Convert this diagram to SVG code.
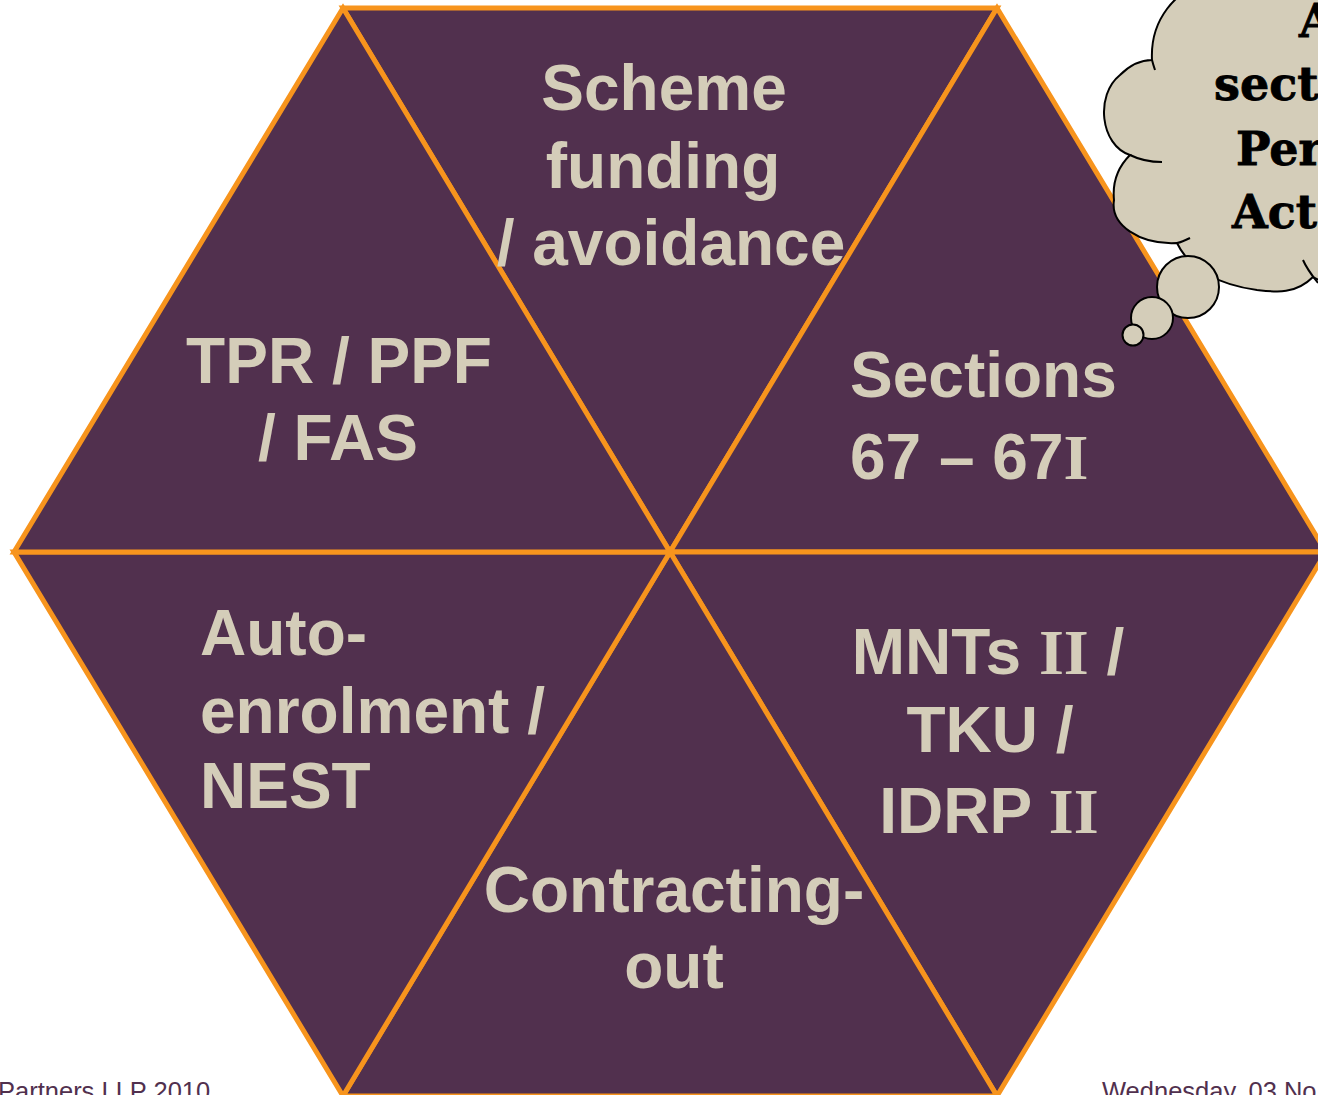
<svg xmlns="http://www.w3.org/2000/svg" width="1318" height="1095" viewBox="0 0 1318 1095">
<style>
.tri{fill:#51304E;stroke:#F7941D;stroke-width:5;stroke-linejoin:miter}
.lbl{font-family:"Liberation Sans",Arial,sans-serif;font-weight:bold;font-size:64px;fill:#D4CDB9}
.rom{font-family:"Liberation Serif","Times New Roman",serif;font-weight:bold}
.cloud{fill:#D4CDB9;stroke:#000;stroke-width:2}
.ctext{font-family:"DejaVu Serif",serif;font-weight:bold;font-size:46px;fill:#000}
.foot{font-family:"Liberation Sans",Arial,sans-serif;font-size:25.5px;fill:#51304E}
</style>
<rect width="1318" height="1095" fill="#fff"/>
<g id="hexagon">
<polygon id="tri-top" class="tri" points="343,8 997,8 670,552"/>
<polygon id="tri-topright" class="tri" points="997,8 1326,552 670,552"/>
<polygon id="tri-bottomright" class="tri" points="1326,552 997,1096 670,552"/>
<polygon id="tri-bottom" class="tri" points="997,1096 343,1096 670,552"/>
<polygon id="tri-bottomleft" class="tri" points="343,1096 14,552 670,552"/>
<polygon id="tri-topleft" class="tri" points="14,552 343,8 670,552"/>
</g>
<g id="connectors"></g>
<g id="scheme-funding">
<text class="lbl" text-anchor="middle"><tspan x="664" y="110">Scheme</tspan><tspan x="663" y="188">funding</tspan><tspan x="671" y="265">/ avoidance</tspan></text>
</g>
<g id="tpr-ppf">
<text class="lbl" text-anchor="middle"><tspan x="339" y="383">TPR / PPF</tspan><tspan x="338" y="460">/ FAS</tspan></text>
</g>
<g id="sections">
<text class="lbl"><tspan x="850" y="397">Sections</tspan><tspan x="850" y="479">67 – 67<tspan class="rom">I</tspan></tspan></text>
</g>
<g id="auto-enrolment">
<text class="lbl"><tspan x="200" y="655">Auto-</tspan><tspan x="200" y="733">enrolment /</tspan><tspan x="200" y="808">NEST</tspan></text>
</g>
<g id="mnts">
<text class="lbl" text-anchor="middle"><tspan x="988" y="674">MNTs <tspan class="rom">II</tspan> /</tspan><tspan x="990" y="752">TKU /</tspan><tspan x="989" y="833">IDRP <tspan class="rom">II</tspan></tspan></text>
</g>
<g id="contracting-out">
<text class="lbl" text-anchor="middle"><tspan x="674" y="912">Contracting-</tspan><tspan x="674" y="988">out</tspan></text>
</g>
<g id="thought-cloud">
<path class="cloud" d="M1152,60 C1150,20 1175,-10 1210,-20 L1340,-20 L1340,290 C1320,280 1318,280 1313,277 C1295,295 1275,292 1257,290 C1220,285 1190,270 1177,243 C1140,245 1110,225 1114,200 C1112,180 1120,165 1130,155 C1100,145 1095,95 1120,75 C1130,65 1140,60 1152,60 Z"/>
<path fill="none" stroke="#000" stroke-width="2" d="M1152,60 C1153,64 1154,67 1155,70 M1130,155 C1140,160 1150,162 1162,162 M1177,243 C1182,242 1186,240 1190,238 M1303,260 C1306,267 1310,273 1318,283"/>
<circle class="cloud" cx="1188" cy="287" r="31"/>
<circle class="cloud" cx="1152" cy="318" r="21"/>
<circle class="cloud" cx="1133" cy="335" r="10.5"/>
<text class="ctext" stroke="#000" stroke-width="0.8"><tspan x="1299" y="37">A</tspan><tspan x="1214" y="100">sect</tspan><tspan x="1236" y="165">Per</tspan><tspan x="1232" y="228">Act</tspan></text>
</g>
<g id="footer">
<text class="foot" x="-2" y="1100">Partners LLP 2010</text>
<text class="foot" x="1102" y="1100">Wednesday, 03 No</text>
</g>
</svg>
